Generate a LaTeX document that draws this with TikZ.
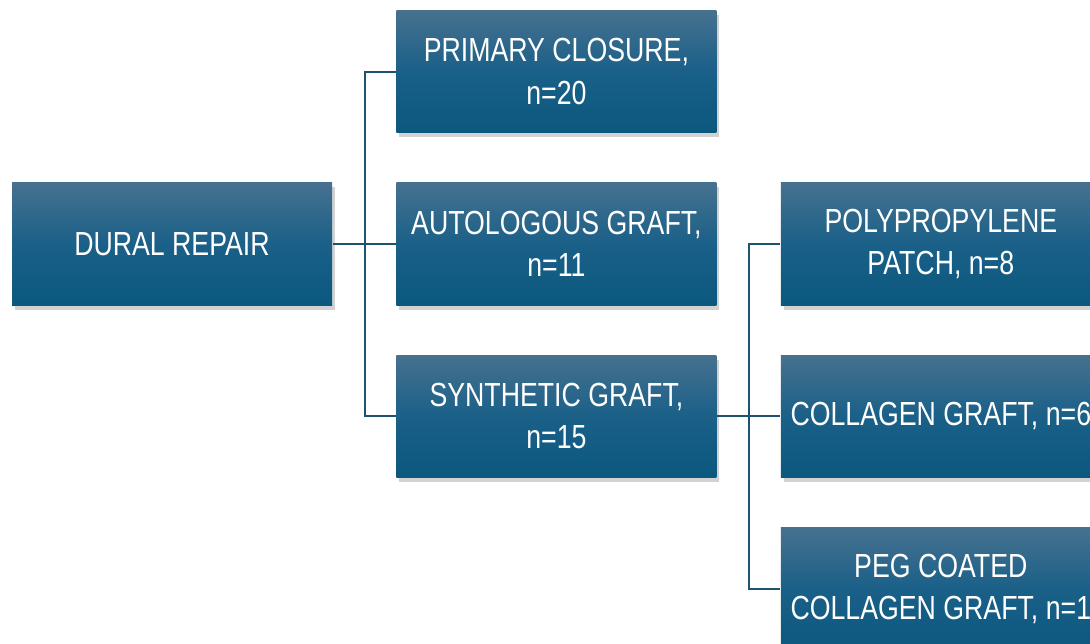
\documentclass[tikz,border=0pt]{standalone}
\usepackage{fontspec}
\setmainfont{Liberation Sans}[FakeStretch=0.8]
\usetikzlibrary{positioning,shadows}
\definecolor{boxtop}{HTML}{46718F}
\definecolor{boxmid}{HTML}{1A6088}
\definecolor{boxbot}{HTML}{0B587E}
\definecolor{linkcol}{HTML}{1E5370}
\begin{document}
\begin{tikzpicture}[thick,
	box/.style={rectangle,minimum width=6.4cm,minimum height=2.44cm,inner sep=0pt,align=center,
		text=white,top color=boxtop,bottom color=boxbot,middle color=boxmid,
		drop shadow={opacity=0.35,shadow xshift=0.06cm,shadow yshift=-0.09cm},
		font=\fontsize{19}{24}\selectfont},
	link/.style={draw=linkcol,line width=1.1pt}]
	\useasboundingbox (0,0) rectangle (21.8,-12.88);
	\fill[white] (0,0) rectangle (21.8,-12.88);
	\clip (0,0) rectangle (21.8,-12.88);
	% first level
	\node[box] (dural) at (3.44,-4.88) {DURAL REPAIR};
	\node[box,right=1.26cm of dural] (autol) {AUTOLOGOUS GRAFT,\\n=11};
	\node[box,above=0.98cm of autol] (primary) {PRIMARY CLOSURE,\\n=20};
	\node[box,below=0.98cm of autol] (synth) {SYNTHETIC GRAFT,\\n=15};
	% second level
	\node[box,right=1.26cm of autol] (patch) {POLYPROPYLENE\\PATCH, n=8};
	\node[box,right=1.26cm of synth] (collagen) {COLLAGEN GRAFT, n=6};
	\node[box,below=0.98cm of collagen] (peg) {PEG COATED\\COLLAGEN GRAFT, n=1};
	% connectors
	\draw[link] (dural.east) -- ++(0.64,0) coordinate (forkA);
	\draw[link] (forkA) |- (primary.west);
	\draw[link] (forkA) -- (autol.west);
	\draw[link] (forkA) |- (synth.west);
	\draw[link] (synth.east) -- ++(0.64,0) coordinate (forkB);
	\draw[link] (forkB) |- (patch.west);
	\draw[link] (forkB) -- (collagen.west);
	\draw[link] (forkB) |- (peg.west);
\end{tikzpicture}
\end{document}
